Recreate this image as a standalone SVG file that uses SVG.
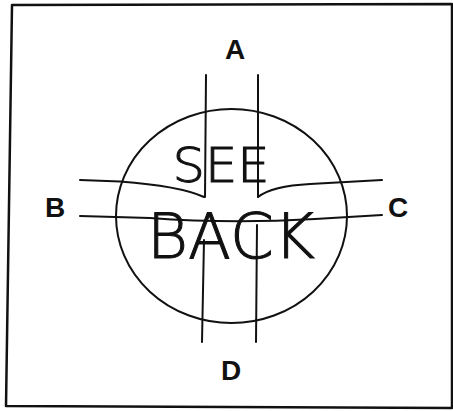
<svg xmlns="http://www.w3.org/2000/svg" width="453" height="411" viewBox="0 0 453 411">
<style>
.ln{fill:none;stroke:#111;stroke-width:2;stroke-linecap:round;stroke-linejoin:round}
.lbl{font-family:"Liberation Sans",Arial,sans-serif;font-weight:bold;font-size:28px;fill:#111;text-anchor:middle}
.hw{font-family:"DejaVu Sans","Liberation Sans",sans-serif;font-weight:200;fill:#111;stroke:#111;stroke-width:1}
</style>
<rect width="453" height="411" fill="#fff"/>
<g id="frame"><path class="ln" style="stroke-width:2.5" d="M12,5 L452,4 L452,408 L6,406 Z"/></g>
<g id="circle"><ellipse class="ln" cx="231.5" cy="216" rx="115.5" ry="107"/></g>
<g id="connectors">
<path class="ln" d="M206,75 L205,197"/>
<path class="ln" d="M258,75 L258,197"/>
<path class="ln" d="M204,240 L202,342"/>
<path class="ln" d="M257,225 L256,342"/>
<path class="ln" d="M80,180 L120,181.5 Q180,186 204,197"/>
<path class="ln" d="M258,197 Q272,186 310,184 L382,180"/>
<path class="ln" d="M80,216 L150,218 Q230,224 315,219 L382,215"/>
</g>
<g id="label-see"><text class="hw" x="221" y="182" font-size="48" text-anchor="middle" textLength="97" lengthAdjust="spacingAndGlyphs">SEE</text></g>
<g id="label-back"><text class="hw" x="231" y="258" font-size="62" text-anchor="middle" textLength="168" lengthAdjust="spacingAndGlyphs">BACK</text></g>
<g id="A"><text class="lbl" x="235" y="59">A</text></g>
<g id="B"><text class="lbl" x="55" y="217">B</text></g>
<g id="C"><text class="lbl" x="398" y="217">C</text></g>
<g id="D"><text class="lbl" x="231" y="380">D</text></g>
</svg>
